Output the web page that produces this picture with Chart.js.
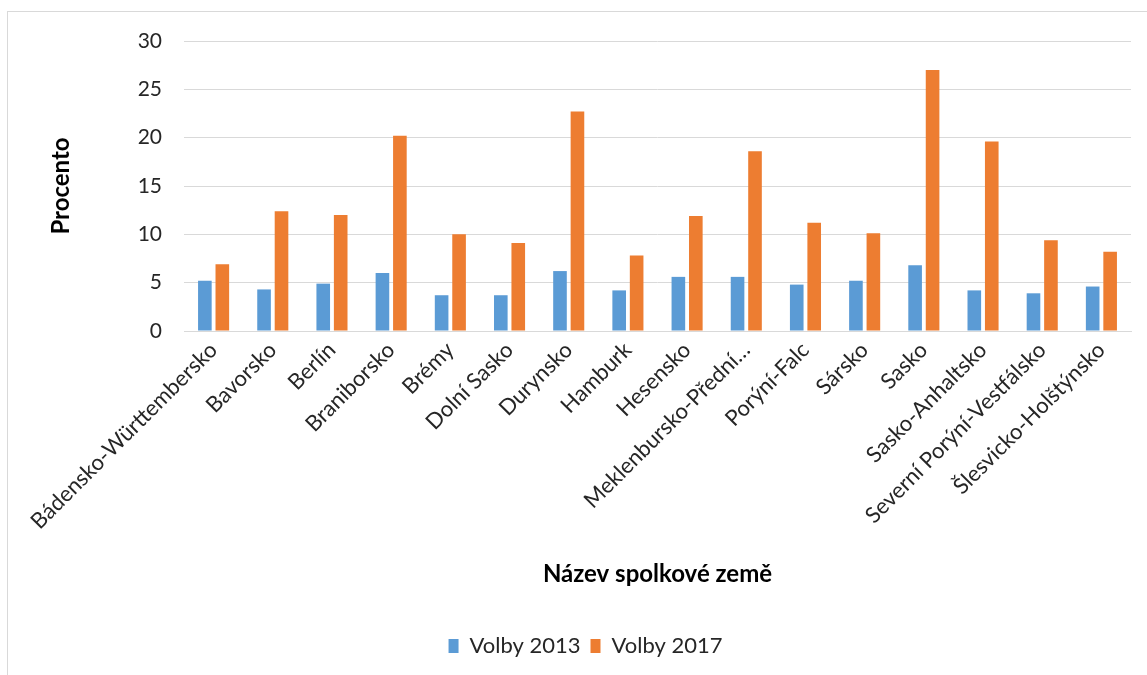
<!DOCTYPE html>
<html>
<head>
<meta charset="utf-8">
<script src="https://cdn.jsdelivr.net/npm/chart.js@4/dist/chart.umd.min.js"></script>
<style>
  html, body { margin: 0; padding: 0; background: #fff; overflow: hidden; }
  #frame { position: absolute; left: 7px; top: 11px; width: 1300px; height: 800px; border: 1px solid #d9d9d9; pointer-events: none; }
  canvas { position: absolute; left: 0; top: 0; }
</style>
</head>
<body>
<div id="frame"></div>
<canvas id="c" width="1147" height="675"></canvas>
<script>
const categories = [
  "Bádensko-Württembersko", "Bavorsko", "Berlín", "Braniborsko", "Brémy",
  "Dolní Sasko", "Durynsko", "Hamburk", "Hesensko", "Meklenbursko-Přední…",
  "Porýní-Falc", "Sársko", "Sasko", "Sasko-Anhaltsko", "Severní Porýní-Vestfálsko",
  "Šlesvicko-Holštýnsko"
];
const volby2013 = [5.2, 4.3, 4.9, 6.0, 3.7, 3.7, 6.2, 4.2, 5.6, 5.6, 4.8, 5.2, 6.8, 4.2, 3.9, 4.6];
const volby2017 = [6.9, 12.4, 12.0, 20.2, 10.0, 9.1, 22.7, 7.8, 11.9, 18.6, 11.2, 10.1, 27.0, 19.6, 9.4, 8.2];
const seriesNames = ["Volby 2013", "Volby 2017"];
const yTicks = [0, 5, 10, 15, 20, 25, 30];

const FONT = "Lato, 'Open Sans', sans-serif";

new Chart(document.getElementById('c'), {
  type: 'bar',
  data: {
    labels: categories,
    datasets: [
      { label: seriesNames[0], data: volby2013, backgroundColor: '#5b9bd5', categoryPercentage: 0.59, barPercentage: 0.78 },
      { label: seriesNames[1], data: volby2017, backgroundColor: '#ed7d31', categoryPercentage: 0.59, barPercentage: 0.78 }
    ]
  },
  options: {
    responsive: false,
    animation: false,
    layout: { padding: { left: 40, right: 16, top: 41, bottom: 8 } },
    plugins: {
      tooltip: { enabled: false },
      legend: {
        position: 'bottom',
        labels: {
          font: { family: FONT, size: 22 },
          color: '#262626',
          boxWidth: 10,
          boxHeight: 14,
          padding: 10
        }
      }
    },
    scales: {
      x: {
        grid: { display: false, drawTicks: false },
        border: { display: true, color: '#d9d9d9', width: 1 },
        ticks: {
          font: { family: FONT, size: 22 },
          color: '#262626',
          maxRotation: 45,
          minRotation: 45,
          autoSkip: false,
          padding: 6
        },
        title: {
          display: true,
          text: 'Název spolkové země',
          font: { family: FONT, size: 24, weight: 'bold' },
          color: '#000',
          padding: { top: 0, bottom: 36 }
        },
        afterFit: (s) => { s.height = 294; }
      },
      y: {
        min: 0,
        max: 30,
        afterBuildTicks: (s) => { s.ticks = yTicks.map(v => ({ value: v })); },
        grid: { color: '#d9d9d9', lineWidth: 1, drawTicks: false },
        border: { display: false },
        ticks: {
          font: { family: FONT, size: 21 },
          color: '#262626',
          padding: 22
        },
        title: {
          display: true,
          text: 'Procento',
          font: { family: FONT, size: 24, weight: 'bold' },
          color: '#000',
          padding: { top: 7, bottom: 0 }
        },
        afterFit: (s) => { s.width = 144; }
      }
    }
  }
});
</script>
</body>
</html>
